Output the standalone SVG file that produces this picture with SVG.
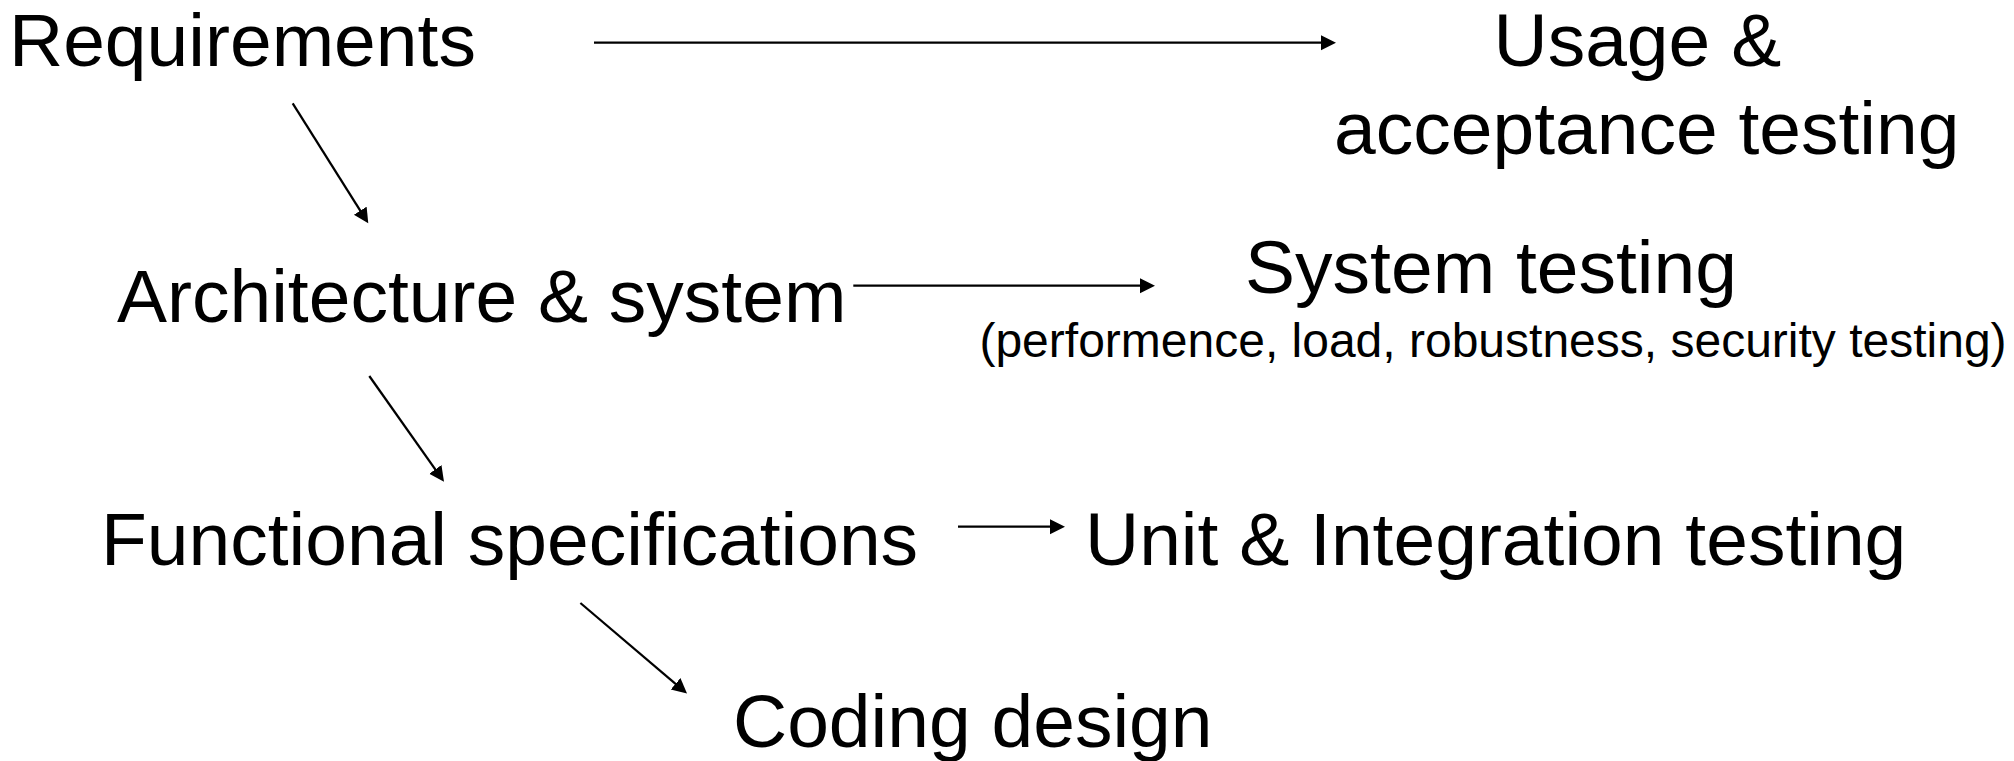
<svg xmlns="http://www.w3.org/2000/svg" width="2014" height="761" viewBox="0 0 2014 761">
  <style>
    .label { font-family: "Liberation Sans", Arial, sans-serif; font-size: 75px; fill: #000; }
    .sub { font-family: "Liberation Sans", Arial, sans-serif; font-size: 48px; fill: #000; }
    .edge { fill: none; stroke: #000; stroke-width: 2.25; marker-end: url(#arrow); }
  </style>
  <defs>
    <!-- solid triangular head; refX offsets so the tip lands 5px past the line end -->
    <marker id="arrow" markerUnits="userSpaceOnUse" markerWidth="16" markerHeight="16" refX="10" refY="7.5" orient="auto">
      <path d="M0,0 L15,7.5 L0,15 z" fill="#000"/>
    </marker>
  </defs>
  <rect width="2014" height="761" fill="#fff"/>

  <g id="connectors">
    <path class="edge" d="M594,42.7 L1331,42.7"/>
    <path class="edge" d="M292.7,103.3 L365.6,219.1"/>
    <path class="edge" d="M853.3,285.7 L1150,285.7"/>
    <path class="edge" d="M369.3,376 L441.1,477.6"/>
    <path class="edge" d="M958,526.7 L1060,526.7"/>
    <path class="edge" d="M580.4,603 L683.2,690.3"/>
  </g>

  <g id="requirements">
    <text class="label" x="9" y="66">Requirements</text>
  </g>
  <g id="acceptance-testing">
    <text class="label" x="1493.5" y="66">Usage &amp;</text>
    <text class="label" x="1334" y="154">acceptance testing</text>
  </g>
  <g id="architecture">
    <text class="label" x="117" y="322">Architecture &amp; system</text>
  </g>
  <g id="system-testing">
    <text class="label" x="1491" y="293" text-anchor="middle">System testing</text>
    <text class="sub" x="1493" y="357" text-anchor="middle">(performence, load, robustness, security testing)</text>
  </g>
  <g id="functional-specs">
    <text class="label" x="101" y="565">Functional specifications</text>
  </g>
  <g id="unit-integration">
    <text class="label" x="1085" y="565">Unit &amp; Integration testing</text>
  </g>
  <g id="coding-design">
    <text class="label" x="733" y="747">Coding design</text>
  </g>
</svg>
